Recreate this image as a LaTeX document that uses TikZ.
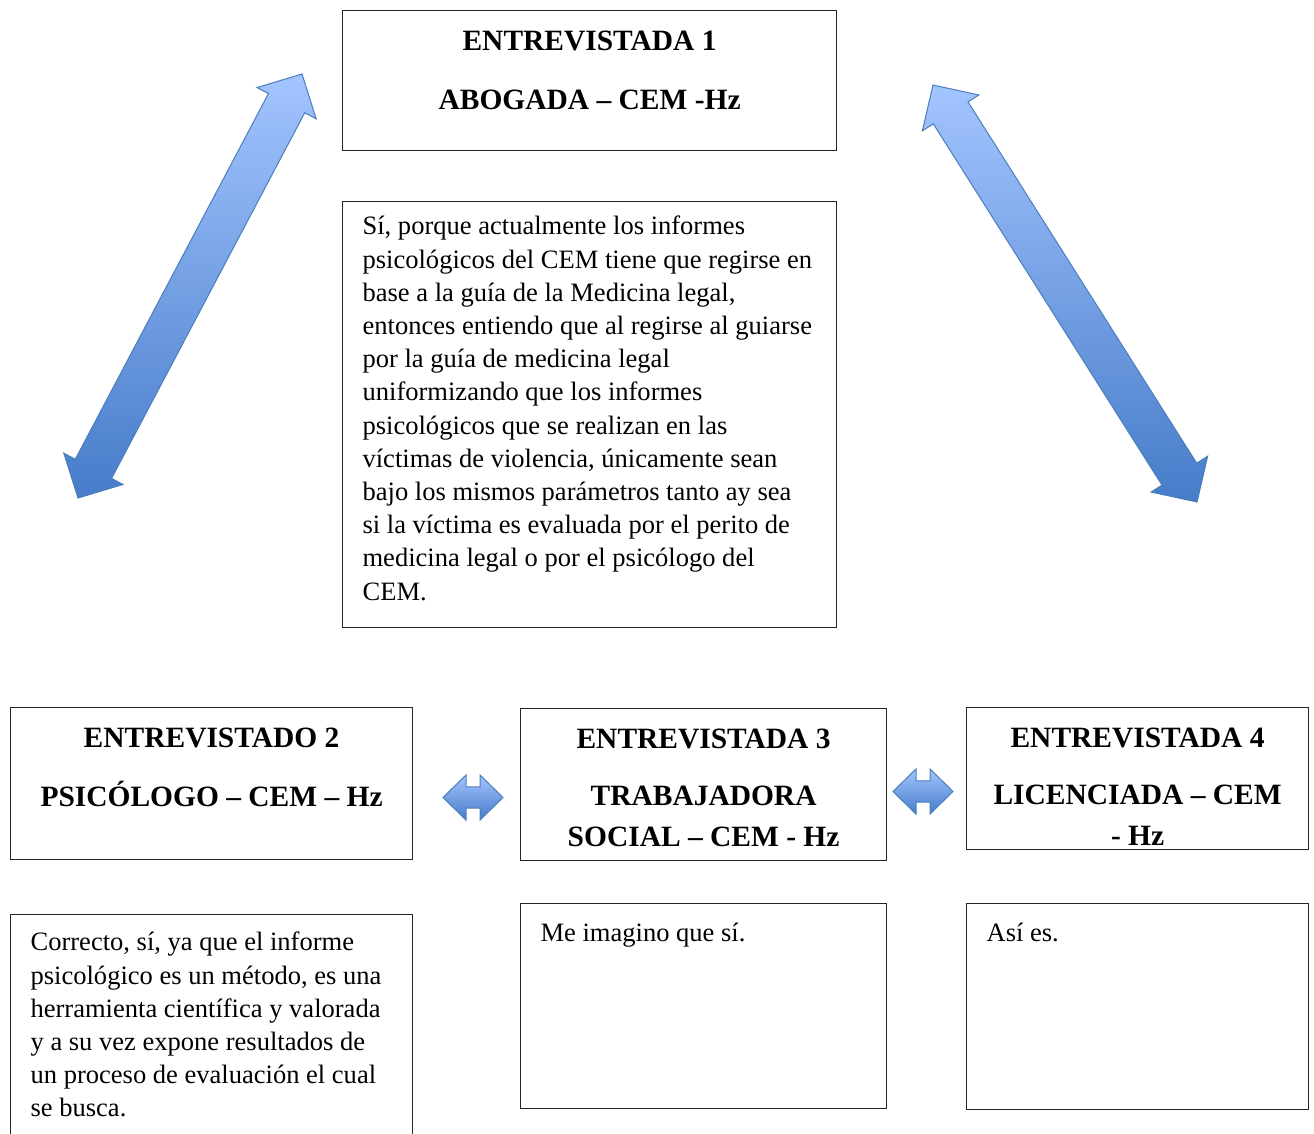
\documentclass[tikz,border=0pt]{standalone}
\usepackage{fontspec}
\setmainfont{Liberation Serif}
\usetikzlibrary{calc}

\definecolor{arrowlight}{HTML}{A3C4FF}
\definecolor{arrowdark}{HTML}{467CC9}
\definecolor{arrowline}{HTML}{4A7EBB}

\tikzset{every picture/.style={line width=0.75pt}}
\tikzset{
  caja/.style={draw=black!85, line width=0.9pt, inner xsep=15pt, inner ysep=7.5pt, anchor=north west},
  titulo/.style={caja, inner ysep=8.25pt, font=\bfseries\fontsize{22.1}{30.75}\selectfont},
  cuerpo/.style={caja, font=\fontsize{19.9}{24.9}\selectfont},
  flecha/.style={draw=arrowline, line width=0.75pt, top color=arrowlight, bottom color=arrowdark}
}

% block double arrow: shaft half width, head half width, head length, end A, end B
\newcommand{\blockarrow}[5]{%
  \coordinate (#4-b) at ($(#4)!#3!(#5)$);
  \coordinate (#5-b) at ($(#5)!#3!(#4)$);
  \path[flecha] (#5) -- ($(#5-b)!#2!90:(#5)$) -- ($(#5-b)!#1!90:(#5)$)
    -- ($(#4-b)!#1!-90:(#4)$) -- ($(#4-b)!#2!-90:(#4)$) -- (#4)
    -- ($(#4-b)!#2!90:(#4)$) -- ($(#4-b)!#1!90:(#4)$)
    -- ($(#5-b)!#1!-90:(#5)$) -- ($(#5-b)!#2!-90:(#5)$) -- cycle;}

\begin{document}
\begin{tikzpicture}[x=0.75pt,y=0.75pt,yscale=-1,xscale=1]
\useasboundingbox (0,0) rectangle (1314,1133);

% Entrevistada 1
\node (entrev1) [titulo] at (342,10) {\begin{minipage}[t][88.5pt][t]{340.5pt}\centering
\strut ENTREVISTADA 1\par\vspace{14pt}
\strut ABOGADA – CEM -Hz
\end{minipage}};
% Respuesta 1
\node (resp1) [cuerpo] at (342,201) {\begin{minipage}[t][304.5pt][t]{340.5pt}\raggedright
\strut Sí, porque actualmente los informes\\
psicológicos del CEM tiene que regirse en\\
base a la guía de la Medicina legal,\\
entonces entiendo que al regirse al guiarse\\
por la guía de medicina legal\\
uniformizando que los informes\\
psicológicos que se realizan en las\\
víctimas de violencia, únicamente sean\\
bajo los mismos parámetros tanto ay sea\\
si la víctima es evaluada por el perito de\\
medicina legal o por el psicólogo del\\
CEM.
\end{minipage}};

% Entrevistado 2
\node (entrev2) [titulo] at (10,707) {\begin{minipage}[t][97.5pt][t]{271.5pt}\centering
\strut ENTREVISTADO 2\par\vspace{14pt}
\strut PSICÓLOGO – CEM – Hz
\end{minipage}};
% Entrevistada 3
\node (entrev3) [titulo] at (520,708) {\begin{minipage}[t][97.5pt][t]{244.5pt}\centering
\strut ENTREVISTADA 3\par\vspace{12pt}
\strut TRABAJADORA\\
SOCIAL – CEM - Hz
\end{minipage}};
% Entrevistada 4
\node (entrev4) [titulo] at (966,707) {\begin{minipage}[t][90pt][t]{226.5pt}\centering
\strut ENTREVISTADA 4\par\vspace{12pt}
\strut LICENCIADA – CEM\\
- Hz
\end{minipage}};

% Respuesta 2
\node (resp2) [cuerpo] at (10,914) {\begin{minipage}[t][162pt][t]{271.5pt}\raggedright
\vspace*{2.25pt}
\strut Correcto, sí, ya que el informe\\
psicológico es un método, es una\\
herramienta científica y valorada\\
y a su vez expone resultados de\\
un proceso de evaluación el cual\\
se busca.
\end{minipage}};
% Respuesta 3
\node (resp3) [cuerpo] at (520,903) {\begin{minipage}[t][138.75pt][t]{244.5pt}\raggedright
\vspace*{3.75pt}
\strut Me imagino que sí.
\end{minipage}};
% Respuesta 4
\node (resp4) [cuerpo] at (966,903) {\begin{minipage}[t][139.5pt][t]{226.5pt}\raggedright
\vspace*{3.75pt}
\strut Así es.
\end{minipage}};

% Arrows
\coordinate (izqA) at (78,498);
\coordinate (izqB) at (302,74);
\coordinate (derA) at (933,85);
\coordinate (derB) at (1197,502);
\coordinate (medA) at (443,797.5);
\coordinate (medB) at (503,797.5);
\coordinate (finA) at (893,791.5);
\coordinate (finB) at (953,791.5);
\blockarrow{15.4pt}{25.1pt}{24.75pt}{izqA}{izqB}
\blockarrow{15.4pt}{25.1pt}{24.75pt}{derA}{derB}
\blockarrow{7.9pt}{16.9pt}{17.25pt}{medA}{medB}
\blockarrow{7.9pt}{16.9pt}{17.25pt}{finA}{finB}

\end{tikzpicture}
\end{document}
